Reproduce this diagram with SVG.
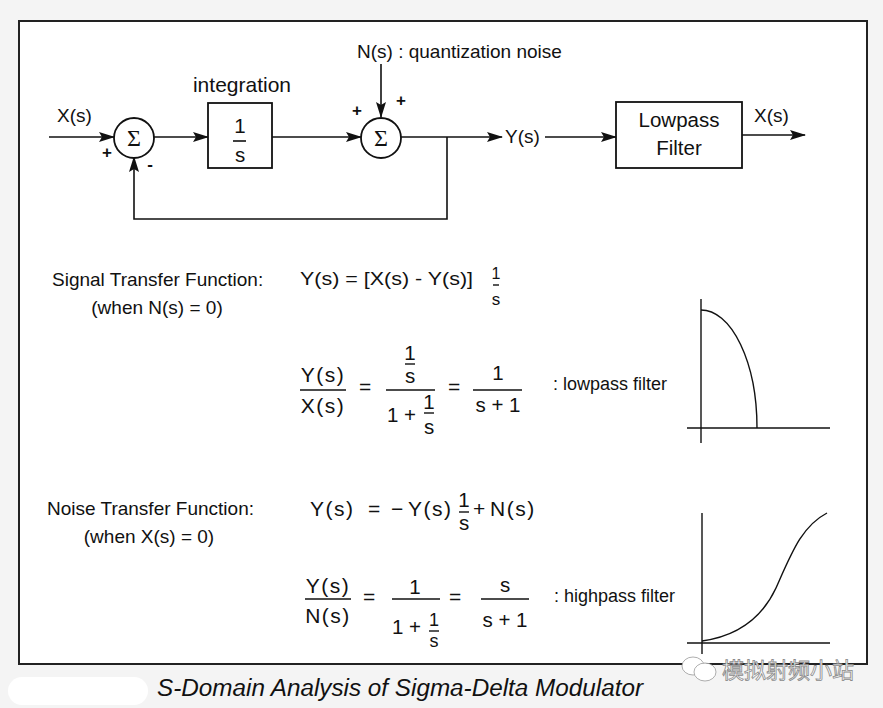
<svg xmlns="http://www.w3.org/2000/svg" width="883" height="708" viewBox="0 0 883 708">
<defs>
<style>
.t{font-family:"Liberation Sans",Arial,sans-serif;fill:#111}
.b{font-size:20.5px}
.m{font-size:19px}
.e{font-size:21px;letter-spacing:1.5px}
.sm{font-size:19px}
.fr{font-size:18px}
.ln{stroke:#111;stroke-width:1.6;fill:none}
.ax{stroke:#111;stroke-width:1.4;fill:none}
.box{fill:#fff;stroke:#111;stroke-width:1.8}
.sig{font-family:"Liberation Serif","Times New Roman",serif;font-size:24px;fill:#111}
.wm{font-family:"Noto Sans CJK SC","Noto Sans",sans-serif;font-size:22px;fill:#fff;stroke:#8a8a8a;stroke-width:0.8}
</style>
<marker id="arr" markerWidth="16" markerHeight="10" refX="15" refY="5" orient="auto" markerUnits="userSpaceOnUse">
<path d="M0,0 L16,5 L0,10 L3,5 Z" fill="#111"/>
</marker>
</defs>
<rect x="0" y="0" width="883" height="708" fill="#f4f4f4"/>
<rect x="8" y="677" width="140" height="28" rx="14" fill="#fff"/>
<rect id="frame" x="19" y="21" width="848" height="643" fill="#fff" stroke="#222" stroke-width="2"/>

<g id="connectors">
<path class="ln" d="M49,137 H114" marker-end="url(#arr)"/>
<path class="ln" d="M154,137 H208" marker-end="url(#arr)"/>
<path class="ln" d="M272,137 H361" marker-end="url(#arr)"/>
<path class="ln" d="M381,64 V117" marker-end="url(#arr)"/>
<path class="ln" d="M401,137 H502" marker-end="url(#arr)"/>
<path class="ln" d="M447,137 V219 H134 V157" marker-end="url(#arr)"/>
<path class="ln" d="M545,137 H616" marker-end="url(#arr)"/>
<path class="ln" d="M742,135 H805" marker-end="url(#arr)"/>
</g>

<g id="input-label"><text class="t m" x="57" y="122">X(s)</text></g>

<g id="sum1">
<circle cx="134" cy="138" r="20" class="box"/>
<text class="sig" x="134" y="146" text-anchor="middle">Σ</text>
<text class="t" style="font-size:17px;font-weight:bold" x="107" y="158" text-anchor="middle">+</text>
<text class="t" style="font-size:17px;font-weight:bold" x="150" y="170" text-anchor="middle">-</text>
</g>

<g id="integrator">
<text class="t" style="font-size:21px" x="242" y="92" text-anchor="middle">integration</text>
<rect x="208" y="103" width="64" height="65" class="box"/>
<text class="t b" x="240" y="133" text-anchor="middle">1</text>
<line x1="233" y1="141" x2="246" y2="141" stroke="#111" stroke-width="1.6"/>
<text class="t b" x="240" y="162" text-anchor="middle">s</text>
</g>

<g id="sum2">
<circle cx="381" cy="138" r="20" class="box"/>
<text class="sig" x="381" y="146" text-anchor="middle">Σ</text>
<text class="t" style="font-size:17px;font-weight:bold" x="357" y="116" text-anchor="middle">+</text>
<text class="t" style="font-size:17px;font-weight:bold" x="401" y="106" text-anchor="middle">+</text>
</g>

<g id="noise-label"><text class="t m" x="357" y="58">N(s) : quantization noise</text></g>
<g id="y-label"><text class="t m" x="505" y="143">Y(s)</text></g>

<g id="lpf">
<rect x="616" y="102" width="126" height="66" class="box"/>
<text class="t b" x="679" y="127" text-anchor="middle">Lowpass</text>
<text class="t b" x="679" y="155" text-anchor="middle">Filter</text>
</g>
<g id="output-label"><text class="t m" x="754" y="122">X(s)</text></g>

<g id="stf">
<text class="t sm" x="52" y="286">Signal Transfer Function:</text>
<text class="t sm" x="157" y="314" text-anchor="middle">(when N(s) = 0)</text>
<text class="t m" x="300" y="285" textLength="173" lengthAdjust="spacingAndGlyphs">Y(s) = [X(s) - Y(s)]</text>
<text class="t" style="font-size:16px" x="496" y="279" text-anchor="middle">1</text>
<line x1="493" y1="285" x2="499" y2="285" stroke="#111" stroke-width="1.4"/>
<text class="t" style="font-size:17px" x="496" y="305" text-anchor="middle">s</text>

<text class="t e" x="323" y="382" text-anchor="middle">Y(s)</text>
<line x1="300" y1="390" x2="346" y2="390" class="ax"/>
<text class="t e" x="323" y="413" text-anchor="middle">X(s)</text>
<text class="t e" x="366" y="394" text-anchor="middle">=</text>
<text class="t b" x="410" y="360" text-anchor="middle">1</text>
<line x1="405" y1="364" x2="415" y2="364" class="ax"/>
<text class="t b" x="410" y="383" text-anchor="middle">s</text>
<line x1="386" y1="390" x2="435" y2="390" class="ax"/>
<text class="t b" x="387" y="422">1 +</text>
<text class="t b" x="429" y="409" text-anchor="middle">1</text>
<line x1="424" y1="413" x2="434" y2="413" class="ax"/>
<text class="t b" x="429" y="434" text-anchor="middle">s</text>
<text class="t e" x="455" y="394" text-anchor="middle">=</text>
<text class="t b" x="498" y="380" text-anchor="middle">1</text>
<line x1="473" y1="390" x2="522" y2="390" class="ax"/>
<text class="t b" x="498" y="412" text-anchor="middle">s + 1</text>
<text class="t fr" x="553" y="390">: lowpass filter</text>
</g>

<g id="lowpass-plot">
<line x1="701" y1="299" x2="701" y2="443" class="ax"/>
<line x1="687" y1="428" x2="830" y2="428" class="ax"/>
<path d="M701,310 A56,118 0 0 1 757,428" class="ax"/>
</g>

<g id="ntf">
<text class="t sm" x="47" y="515">Noise Transfer Function:</text>
<text class="t sm" x="149" y="543" text-anchor="middle">(when X(s) = 0)</text>
<text class="t e" x="310" y="516">Y(s)</text>
<text class="t e" x="375" y="516" text-anchor="middle">=</text>
<text class="t e" x="398" y="516" text-anchor="middle">−</text>
<text class="t e" x="408" y="516">Y(s)</text>
<text class="t b" x="464" y="507" text-anchor="middle">1</text>
<line x1="459" y1="512" x2="469" y2="512" class="ax"/>
<text class="t b" x="464" y="530" text-anchor="middle">s</text>
<text class="t e" x="480" y="516" text-anchor="middle">+</text>
<text class="t e" x="490" y="516">N(s)</text>

<text class="t e" x="328" y="593" text-anchor="middle">Y(s)</text>
<line x1="305" y1="599" x2="351" y2="599" class="ax"/>
<text class="t e" x="328" y="623" text-anchor="middle">N(s)</text>
<text class="t e" x="370" y="604" text-anchor="middle">=</text>
<text class="t b" x="415" y="594" text-anchor="middle">1</text>
<line x1="392" y1="599" x2="440" y2="599" class="ax"/>
<text class="t b" x="392" y="634">1 +</text>
<text class="t fr" x="434" y="626" text-anchor="middle">1</text>
<line x1="429" y1="631" x2="439" y2="631" class="ax"/>
<text class="t fr" x="434" y="647" text-anchor="middle">s</text>
<text class="t e" x="456" y="604" text-anchor="middle">=</text>
<text class="t b" x="505" y="592" text-anchor="middle">s</text>
<line x1="481" y1="599" x2="529" y2="599" class="ax"/>
<text class="t b" x="505" y="627" text-anchor="middle">s + 1</text>
<text class="t fr" x="554" y="602">: highpass filter</text>
</g>

<g id="highpass-plot">
<line x1="702" y1="513" x2="702" y2="654" class="ax"/>
<line x1="687" y1="643" x2="830" y2="643" class="ax"/>
<path d="M702,641 C738,636 762,618 776,588 C792,552 802,526 827,513" class="ax"/>
</g>

<g id="caption">
<text class="t" style="font-size:23px;font-style:italic" x="157" y="696" textLength="486" lengthAdjust="spacingAndGlyphs">S-Domain Analysis of Sigma-Delta Modulator</text>
</g>

<g id="watermark">
<ellipse cx="693" cy="666" rx="11" ry="9" fill="#fff" stroke="#999" stroke-width="0.8"/>
<ellipse cx="705" cy="672" rx="11" ry="9" fill="#fff" stroke="#999" stroke-width="0.8"/>
<text class="wm" x="722" y="678">模拟射频小站</text>
</g>
</svg>
